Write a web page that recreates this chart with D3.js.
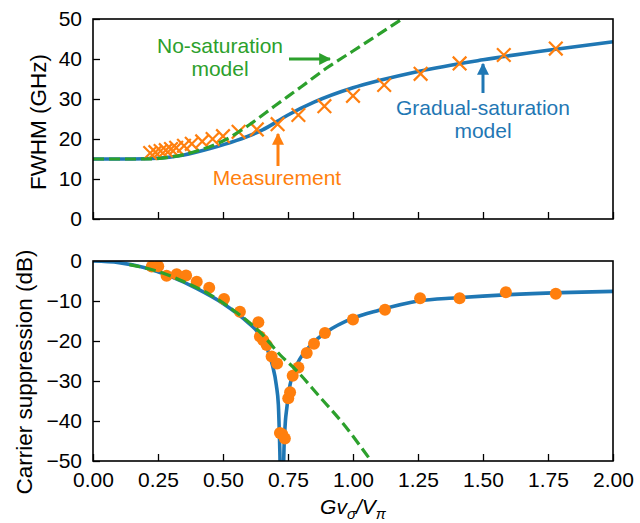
<!DOCTYPE html>
<head>
  <meta charset="UTF-8">
  <title>fwhm</title>
  <style>
  body, html, svg{
    padding: 0;
    margin: 0;
  }
  body{
    background: #fff;
  }
  text{
    font-family: "Liberation Sans", Arial, sans-serif;
  }
  </style>
</head>
<body>
  <script src="https://cdn.jsdelivr.net/npm/d3@7"></script>
  <script type="text/javascript">
  var width = 640;
  var height = 523;

  // x axis shared by both panels
  var xTicks = [0, 0.25, 0.5, 0.75, 1.0, 1.25, 1.5, 1.75, 2.0];
  var fwhmTicks = [0, 10, 20, 30, 40, 50];
  var suppTicks = [0, -10, -20, -30, -40, -50];

  // top panel: FWHM (GHz)
  var measFwhmX = [0.22, 0.24, 0.26, 0.28, 0.30, 0.32, 0.35, 0.38, 0.42, 0.46, 0.50, 0.56, 0.63, 0.71, 0.79, 0.89, 1.00, 1.12, 1.26, 1.41, 1.58, 1.78];
  var measFwhmY = [16.5, 16.7, 17.0, 17.2, 17.5, 17.8, 18.3, 18.8, 19.4, 20.0, 20.7, 21.8, 22.4, 23.7, 26.0, 28.2, 30.8, 33.5, 36.3, 38.9, 41.0, 42.6];
  var gradFwhmX = [0, 0.15, 0.25, 0.35, 0.45, 0.55, 0.65, 0.75, 0.85, 1.0, 1.1, 1.25, 1.5, 1.75, 2.0];
  var gradFwhmY = [15, 15, 15.2, 16.0, 17.6, 19.6, 22.2, 26.0, 29.2, 32.8, 34.6, 36.9, 39.8, 42.2, 44.3];
  var noSatFwhmX = [0, 0.2, 0.3, 0.4, 0.5, 0.6, 0.7, 0.8, 0.9, 1.0, 1.1, 1.2];
  var noSatFwhmY = [15, 15, 15.5, 17.0, 19.5, 23.5, 28.3, 33.0, 37.8, 42.0, 46.2, 50.5];

  // bottom panel: carrier suppression (dB)
  var measSuppX = [0.226, 0.251, 0.283, 0.322, 0.358, 0.399, 0.447, 0.504, 0.565, 0.636, 0.642, 0.655, 0.668, 0.687, 0.708, 0.719, 0.728, 0.738, 0.751, 0.758, 0.768, 0.79, 0.822, 0.85, 0.892, 1.0, 1.123, 1.258, 1.41, 1.588, 1.78];
  var measSuppY = [-1.4, -1.3, -3.7, -3.3, -3.6, -5.2, -6.7, -9.5, -12.7, -15.3, -18.9, -19.8, -21, -23.9, -25.6, -43, -43.3, -44.4, -34.3, -32.8, -28.7, -26.6, -23, -20.7, -18, -14.6, -12.2, -9.3, -9.3, -7.8, -8.2];
  var gradSuppX = [0, 0.1, 0.2, 0.3, 0.4, 0.5, 0.6, 0.64, 0.67, 0.69, 0.705, 0.713, 0.718, 0.7265, 0.735, 0.74, 0.745, 0.755, 0.78, 0.83, 0.9, 1.0, 1.1, 1.25, 1.4, 1.6, 1.8, 2.0];
  var gradSuppY = [0, -0.4, -1.7, -3.9, -6.9, -10.6, -15.6, -18.3, -22, -26, -31, -36, -46, -70, -46, -40, -37, -32, -26.6, -21.6, -17.7, -14.3, -12.3, -10, -9.2, -8.4, -7.9, -7.6];
  var noSatSuppX = [0.14, 0.25, 0.35, 0.45, 0.55, 0.65, 0.72, 0.78, 0.87, 0.96, 1.07];
  var noSatSuppY = [-0.9, -2.6, -5.2, -8.4, -12.8, -18.3, -23.5, -27.2, -33.8, -40.5, -50];

  var blue = '#1f77b4', orange = '#ff7f0e', green = '#2ca02c';

  function zip(xs, ys){
    return xs.map(function(x, i){ return [x, ys[i]]; });
  }

  var svg = d3.select('body')
    .append('svg')
    .attr('width', width)
    .attr('height', height);

  var left = 93, right = 613;
  var x = d3.scaleLinear().domain([0, 2]).range([left, right]);
  var yTop = d3.scaleLinear().domain([0, 50]).range([219, 19]);
  var yBot = d3.scaleLinear().domain([-50, 0]).range([461, 261]);

  function panel(name, y, ticks, showX){
    var g = svg.append('g');
    var top = y.range()[1], bottom = y.range()[0];
    g.append('clipPath').attr('id', 'clip-' + name)
      .append('rect')
      .attr('x', left).attr('y', top)
      .attr('width', right - left).attr('height', bottom - top);

    //刻度 (inward)
    var ya = g.append('g')
      .attr('transform', 'translate(' + left + ',0)')
      .call(d3.axisLeft(y).tickValues(ticks).tickSizeInner(-7).tickSizeOuter(0).tickPadding(11));
    var xa = g.append('g')
      .attr('transform', 'translate(0,' + bottom + ')')
      .call(d3.axisBottom(x).tickValues(xTicks).tickSizeInner(-7).tickSizeOuter(0).tickPadding(11)
        .tickFormat(showX ? d3.format('.2f') : ''));
    [ya, xa].forEach(function(a){
      a.select('.domain').remove();
      a.selectAll('line').attr('stroke', '#000').attr('stroke-width', 1.3);
      a.selectAll('text').attr('fill', '#000').style('font-size', '21px')
        .style('font-family', '"Liberation Sans", Arial, sans-serif');
    });
    var plot = g.append('g').attr('clip-path', 'url(#clip-' + name + ')');
    return {g: g, plot: plot, top: top, bottom: bottom};
  }

  function frame(p){
    p.g.append('rect')
      .attr('x', left).attr('y', p.top)
      .attr('width', right - left).attr('height', p.bottom - p.top)
      .attr('fill', 'none').attr('stroke', '#000').attr('stroke-width', 1.6);
  }

  function drawLine(p, y, pts, color, dashed){
    p.plot.append('path')
      .datum(pts)
      .attr('d', d3.line().x(function(d){ return x(d[0]); }).y(function(d){ return y(d[1]); }).curve(d3.curveMonotoneX))
      .attr('fill', 'none')
      .attr('stroke', color)
      .attr('stroke-width', dashed ? 3.2 : 3.6)
      .attr('stroke-dasharray', dashed ? '11,5' : null);
  }

  // top panel
  var pt = panel('top', yTop, fwhmTicks, false);
  drawLine(pt, yTop, zip(gradFwhmX, gradFwhmY), blue, false);
  var s = 6.8;
  pt.plot.append('g').selectAll('path')
    .data(zip(measFwhmX, measFwhmY))
    .enter()
    .append('path')
    .attr('d', function(d){
      var cx = x(d[0]), cy = yTop(d[1]);
      return 'M' + (cx - s) + ',' + (cy - s) + 'L' + (cx + s) + ',' + (cy + s) +
             'M' + (cx - s) + ',' + (cy + s) + 'L' + (cx + s) + ',' + (cy - s);
    })
    .attr('stroke', orange)
    .attr('stroke-width', 2.2)
    .attr('fill', 'none');
  drawLine(pt, yTop, zip(noSatFwhmX, noSatFwhmY), green, true);
  frame(pt);

  // bottom panel
  var pb = panel('bot', yBot, suppTicks, true);
  drawLine(pb, yBot, zip(gradSuppX, gradSuppY), blue, false);
  pb.plot.append('g').selectAll('circle')
    .data(zip(measSuppX, measSuppY))
    .enter()
    .append('circle')
    .attr('cx', function(d){ return x(d[0]); })
    .attr('cy', function(d){ return yBot(d[1]); })
    .attr('r', 6)
    .attr('fill', orange);
  drawLine(pb, yBot, zip(noSatSuppX, noSatSuppY), green, true);
  frame(pb);

  // axis labels
  svg.append('text')
    .attr('transform', 'translate(38,122) rotate(-90)')
    .attr('text-anchor', 'middle')
    .attr('dominant-baseline', 'central')
    .style('font-size', '22.5px')
    .text('FWHM (GHz)');
  svg.append('text')
    .attr('transform', 'translate(24,372) rotate(-90)')
    .attr('text-anchor', 'middle')
    .attr('dominant-baseline', 'central')
    .style('font-size', '22.5px')
    .text('Carrier suppression (dB)');

  var xl = svg.append('text')
    .attr('x', (left + right) / 2)
    .attr('y', 514)
    .attr('text-anchor', 'middle')
    .style('font-size', '21px')
    .style('font-style', 'italic');
  xl.append('tspan').text('Gv');
  xl.append('tspan').attr('dy', 5).style('font-size', '15px').text('σ');
  xl.append('tspan').attr('dy', -5).text('/V');
  xl.append('tspan').attr('dy', 5).style('font-size', '15px').text('π');

  // annotations
  var arrowDefs = svg.append('defs');
  [['g', green], ['o', orange], ['b', blue]].forEach(function(c){
    arrowDefs.append('marker')
      .attr('id', 'arr-' + c[0])
      .attr('viewBox', '0 0 10 10')
      .attr('refX', 9).attr('refY', 5)
      .attr('markerWidth', 4).attr('markerHeight', 4)
      .attr('markerUnits', 'strokeWidth')
      .attr('orient', 'auto')
      .append('path')
      .attr('d', 'M0,0L10,5L0,10z')
      .attr('fill', c[1]);
  });

  function note(lines, cx, baseline, color){
    lines.forEach(function(t, i){
      svg.append('text')
        .attr('x', cx).attr('y', baseline + i * 23)
        .attr('text-anchor', 'middle')
        .attr('fill', color)
        .style('font-size', '21px')
        .text(t);
    });
  }
  function arrow(x1, y1, x2, y2, id, color){
    svg.append('line')
      .attr('x1', x1).attr('y1', y1).attr('x2', x2).attr('y2', y2)
      .attr('stroke', color).attr('stroke-width', 3)
      .attr('marker-end', 'url(#arr-' + id + ')');
  }

  note(['No-saturation', 'model'], 220, 53, green);
  arrow(289, 59, 330, 59, 'g', green);
  note(['Measurement'], 277, 185, orange);
  arrow(278, 166, 278, 134, 'o', orange);
  note(['Gradual-saturation', 'model'], 483, 115, blue);
  arrow(483, 93, 483, 64, 'b', blue);
  </script>
</body>
</html>
